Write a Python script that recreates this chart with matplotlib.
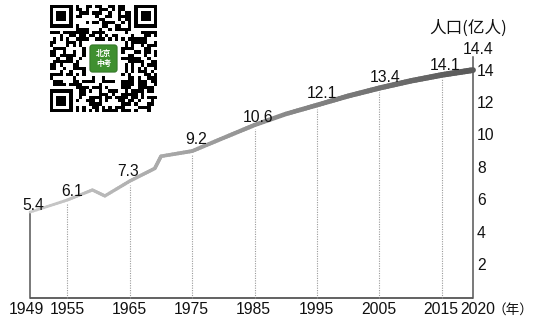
import numpy as np
import matplotlib.pyplot as plt
from matplotlib.collections import LineCollection
from matplotlib.patches import FancyBboxPatch

# 人口数据(亿人)
years = [1949, 1955, 1959, 1961, 1965, 1969, 1970, 1975, 1980, 1985,
         1990, 1995, 2000, 2005, 2010, 2015, 2020]
pop = [5.3, 6.05, 6.67, 6.3, 7.22, 8.0, 8.75, 9.07, 9.88, 10.68,
       11.36, 11.91, 12.47, 12.96, 13.4, 13.77, 14.07]

label_years = [1949, 1955, 1965, 1975, 1985, 1995, 2005, 2015, 2020]
label_vals = ['5.4', '6.1', '7.3', '9.2', '10.6', '12.1', '13.4', '14.1', '14.4']
y_ticks = [2, 4, 6, 8, 10, 12, 14]

latin = ['Liberation Sans', 'DejaVu Sans']
cjk = ['Noto Sans CJK SC', 'DejaVu Sans']
axis_color = '#555555'

fig = plt.figure(figsize=(5.36, 3.19), dpi=100)
ax = fig.add_axes([0, 0, 1, 1])
ax.set_axis_off()
pxx = 443 / 71          # 每年的像素
pxy = 16.2              # 每亿人的像素
ax.set_xlim(1949 - 30 / pxx, 1949 + 506 / pxx)
ax.set_ylim(-21 / pxy, 298 / pxy)

x0, x1 = years[0], years[-1]

# 坐标轴
ax.plot([x0, x1], [0, 0], color=axis_color, lw=1.3, solid_capstyle='butt')
ax.plot([x1, x1], [0, 14.88], color=axis_color, lw=1.1)
ax.plot([x0, x0], [0, pop[0]], color=axis_color, lw=1.1)

# 虚线
for yr in label_years[1:-1]:
    top = np.interp(yr, years, pop) - 0.25
    ax.plot([yr, yr], [0, top], color='#9a9a9a', lw=0.8, ls=(0, (1, 1.2)))

# 渐变折线
segs, cols, widths = [], [], []
for i in range(len(years) - 1):
    xs = np.linspace(years[i], years[i + 1], 12)
    ys = np.linspace(pop[i], pop[i + 1], 12)
    for k in range(len(xs) - 1):
        segs.append([(xs[k], ys[k]), (xs[k + 1], ys[k + 1])])
        t = ((xs[k] + xs[k + 1]) / 2 - x0) / (x1 - x0)
        g = 0.80 - 0.45 * t
        cols.append((g, g, g))
        widths.append(1.9 + 2.3 * t)
lc = LineCollection(segs, colors=cols, linewidths=widths, capstyle='round',
                    joinstyle='round')
ax.add_collection(lc)

# 数值标注
fs = 11.3
label_pos = {1949: (33, 205), 1955: (72, 192), 1965: (128, 171), 1975: (196, 140),
             1985: (258, 117), 1995: (322, 93), 2005: (385, 77), 2015: (445, 65),
             2020: (478, 50)}
for yr, txt in zip(label_years, label_vals):
    px, py = label_pos[yr]
    ax.text(1949 + (px - 30) / pxx, (298 - py) / pxy, txt, ha='center', va='center',
            fontsize=fs, family=latin, color='#111111')

# 右侧刻度
for v in y_ticks:
    ax.text(x1 + 4 / pxx, v, str(v), ha='left', va='center', fontsize=fs,
            family=latin, color='#111111')
ax.text(1949 + (468 - 30) / pxx, (298 - 28) / pxy, '人口(亿人)', ha='center',
        va='center', fontsize=12, family=cjk, color='#111111', weight='medium')

# 横轴标签
x_label_px = {1949: 26, 1955: 67, 1965: 129, 1975: 191, 1985: 253, 1995: 316,
              2005: 379, 2015: 441, 2020: 478}
for yr in label_years:
    ax.text(1949 + (x_label_px[yr] - 30) / pxx, -12 / pxy, str(yr), ha='center',
            va='center', fontsize=fs, family=latin, color='#111111')
ax.text(1949 + (513 - 30) / pxx, -12 / pxy, '（年）', ha='center', va='center',
        fontsize=9.8, family=cjk, color='#111111')

# 二维码装饰
qa = fig.add_axes([50 / 536, 1 - 113 / 319, 107 / 536, 109 / 319])
qa.set_axis_off()
n = 33
ii, jj = np.meshgrid(np.arange(n), np.arange(n), indexing='ij')
qr = (((ii * 37 + jj * 23) ^ (ii * jj * 3)) % 7 < 4).astype(float)
for r0, c0 in [(0, 0), (0, n - 7), (n - 7, 0)]:
    qr[max(r0 - 1, 0):r0 + 8, max(c0 - 1, 0):c0 + 8] = 0
    qr[r0:r0 + 7, c0:c0 + 7] = 1
    qr[r0 + 1:r0 + 6, c0 + 1:c0 + 6] = 0
    qr[r0 + 2:r0 + 5, c0 + 2:c0 + 5] = 1
qr[11:22, 11:22] = 0
qa.imshow(qr, cmap='gray_r', interpolation='nearest', extent=(0, n, n, 0))
qa.add_patch(FancyBboxPatch((12.3, 12.3), 8.4, 8.4, boxstyle='round,pad=0,rounding_size=0.8',
                            facecolor='#3f8f30', edgecolor='#2d6e22', lw=0.6))
qa.text(16.5, 16.5, '北京\n中考', ha='center', va='center', fontsize=5.5,
        color='white', family=cjk, linespacing=1.2, weight='bold')
qa.set_xlim(0, n)
qa.set_ylim(n, 0)

fig.savefig('out.png', dpi=100)
